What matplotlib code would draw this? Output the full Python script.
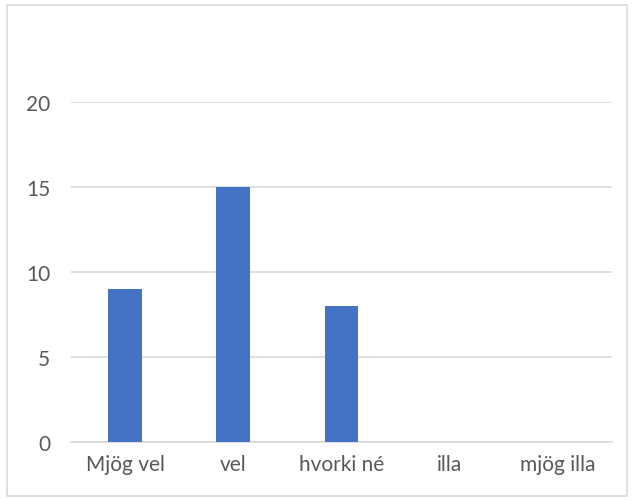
import matplotlib.pyplot as plt
from matplotlib.patches import Rectangle

flokkar = ["Mjög vel", "vel", "hvorki né", "illa", "mjög illa"]
fjoldi = [9, 15, 8, 0, 0]
y_ticks = [0, 5, 10, 15, 20]

plt.rcParams['font.family'] = ['Lato', 'DejaVu Sans']

fig = plt.figure(figsize=(6.32, 5.02), dpi=100)
ax = fig.add_axes([71/632, 1 - 443/502, 541/632, 340/502])

ax.bar(range(len(flokkar)), fjoldi, width=0.314, color='#4472C4', zorder=3)
ax.set_xlim(-0.5, len(flokkar) - 0.5)
ax.set_ylim(0, 20)
ax.set_yticks(y_ticks)
ax.set_xticks(range(len(flokkar)))
ax.set_xticklabels(flokkar)
ax.grid(axis='y', color='#d9d9d9', linewidth=1.2, zorder=0)
for s in ['top', 'right', 'left']:
    ax.spines[s].set_visible(False)
ax.spines['bottom'].set_color('#d9d9d9')
ax.spines['bottom'].set_linewidth(1.2)
ax.tick_params(length=0, labelsize=15, colors='#595959', pad=9)
ax.tick_params(axis='y', pad=15)

fig.patches.append(Rectangle((7/632, 5/502), 620/632, 491/502, transform=fig.transFigure,
                             fill=False, edgecolor='#d9d9d9', linewidth=1.2))

fig.savefig('out.png', dpi=100)
